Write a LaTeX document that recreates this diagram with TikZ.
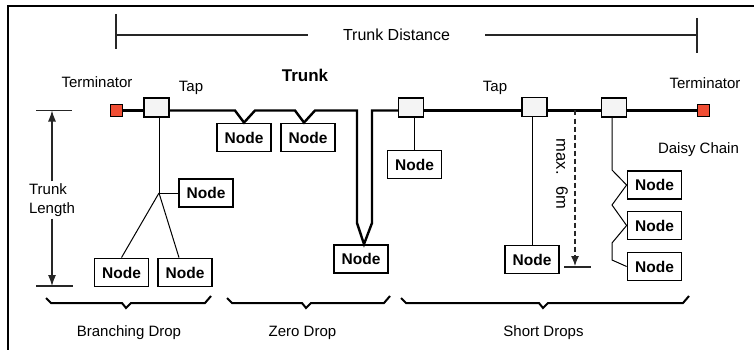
\documentclass[tikz,border=0pt]{standalone}
\usepackage{fontspec}
\setmainfont{Liberation Sans}
\usetikzlibrary{arrows.meta,calc}
\definecolor{termred}{RGB}{240,78,52}
\definecolor{tapfill}{RGB}{244,244,244}
\newcommand{\dropbrace}[3]{%
  \draw[bracestyle] (#1-5,298) -- (#1,303) -- (#2-5,303) -- (#2-1,308) -- (#2+4,303) -- (#3,303) -- (#3+6,296);}
\begin{document}
\begin{tikzpicture}[x=1pt,y=-1pt,
  lbl/.style={font=\fontsize{15}{19}\selectfont, inner sep=1pt},
  nodebox/.style={draw, line width=1.8pt, fill=white, minimum width=54pt, minimum height=28pt, inner sep=0pt, font=\bfseries\fontsize{15.5}{15}\selectfont},
  tapbox/.style={draw, line width=1.4pt, fill=tapfill, minimum width=25pt, minimum height=19pt, inner sep=0pt},
  termbox/.style={draw, line width=1.2pt, fill=termred, minimum size=12pt, inner sep=0pt},
  trunkline/.style={line width=2.4pt, line join=miter},
  dropline/.style={line width=1pt},
  dimline/.style={line width=1.2pt, draw=black!85},
  bracestyle/.style={line width=2pt},
  arr/.style={-{Latex[length=11pt,width=8pt]}}
]
\useasboundingbox (0,0) rectangle (754,350);
\draw[line width=2pt] (8,350) -- (8,6) -- (754,6);

% terminators and taps
\node[termbox] (termL) at (116.5,110.5) {};
\node[termbox] (termR) at (703.5,110.5) {};
\node[tapbox] (tapL) at (156.5,107.5) {};
\node[tapbox] (tapS1) at (411,107.5) {};
\node[tapbox] (tapS2) at (534.5,107) {};
\node[tapbox] (tapS3) at (614,107.5) {};

% device nodes
\node[nodebox] (bn1) at (206,193) {Node};
\node[nodebox] (bn2) at (121.5,272.5) {Node};
\node[nodebox] (bn3) at (185,272.5) {Node};
\node[nodebox] (zn1) at (244,137.5) {Node};
\node[nodebox] (zn2) at (308,137.5) {Node};
\node[nodebox] (zn3) at (361,259) {Node};
\node[nodebox] (sn1) at (414.5,164.5) {Node};
\node[nodebox] (sn2) at (532,259.5) {Node};
\node[nodebox] (dn1) at (654.5,185) {Node};
\node[nodebox] (dn2) at (654.5,225.5) {Node};
\node[nodebox] (dn3) at (654.5,266.5) {Node};

% labels
\node[lbl] (lTermL) at (97,82) {Terminator};
\node[lbl] (lTapL) at (191,88) {Tap};
\node[lbl, font=\bfseries\fontsize{17}{19}\selectfont] (lTrunk) at (305,75) {Trunk};
\node[lbl] (lTapS) at (495,88) {Tap};
\node[lbl] (lTermR) at (705,83) {Terminator};
\node[lbl] (lDaisy) at (698.5,150) {Daisy Chain};
\node[lbl] (lBD) at (129,333) {Branching Drop};
\node[lbl] (lZD) at (302.5,333) {Zero Drop};
\node[lbl] (lSD) at (543.5,333) {Short Drops};

% trunk distance
\coordinate (tdL) at (116,35);
\coordinate (tdR) at (697,35);
\node[lbl, font=\fontsize{16}{19}\selectfont, inner xsep=35pt, inner ysep=0pt] (lTD) at (396.5,35) {Trunk Distance};
\draw[dimline] (tdL) -- (lTD.west) (lTD.east) -- (tdR);
\draw[dimline] ($(tdL)+(0,-21)$) -- ($(tdL)+(0,14)$);
\draw[dimline] ($(tdR)+(0,-17)$) -- ($(tdR)+(0,18)$);

% trunk length
\coordinate (tlT) at (52,110.5);
\coordinate (tlB) at (52,286);
\node[lbl, fill=white, align=left, inner sep=2pt] (lTL) at (52,200) {Trunk\\Length};
\draw[dimline,arr] (lTL.north) -- (tlT);
\draw[dimline,arr] (lTL.south) -- (tlB);
\draw[dimline] ($(tlT)+(-16,0)$) -- ($(tlT)+(20,0)$);
\draw[dimline] ($(tlB)+(-16,0)$) -- ($(tlB)+(21,0)$);

% trunk
\draw[trunkline] (termL.east) -- (termL.east -| tapL.west);
\draw[trunkline] (tapL.east |- termL.east) -- (235,110.5) -- (zn1.north) -- (255,110.5) -- (295,110.5)
  -- ([xshift=-4pt]zn2.north) -- (315,110.5) -- (357,110.5) -- (357,223) -- ([xshift=3pt]zn3.north)
  -- (372,223) -- (372,110.5) -- (tapS1.west |- termL.east);
\draw[trunkline] (tapS1.east |- termL.east) -- (tapS2.west |- termL.east);
\draw[trunkline] (tapS2.east |- termL.east) -- (tapS3.west |- termL.east);
\draw[trunkline] (tapS3.east |- termL.east) -- (termR.west);

% branching drop
\coordinate (bp) at (159,193);
\draw[dropline] (tapL.south -| bp) -- (bp) -- (bn1.west);
\draw[dropline] (bp) -- (bn2.north);
\draw[dropline] (bp) -- ([xshift=-6pt]bn3.north);

% short drops
\draw[dropline] (tapS1.south -| sn1.north) -- (sn1.north);
\draw[dropline] (tapS2.south -| sn2.north) -- (sn2.north);

% max 6m
\coordinate (m6) at (575,266);
\draw[dimline, dash pattern=on 5pt off 3pt, -{Latex[length=10pt,width=8pt]}] (m6 |- termL.east) -- (m6);
\draw[dimline] ($(m6)+(-11,1)$) -- ($(m6)+(16,1)$);
\node[lbl, font=\fontsize{16.5}{19}\selectfont, rotate=-90, fill=white] (lMax) at (562,174) {max.\hspace{0.7em}6m};

% daisy chain
\coordinate (dz) at (612,170);
\draw[dropline] (tapS3.south -| dz) -- (dz) -- (dn1.west) -- (612,205) -- (dn2.west) -- (612,243) -- (612,260) -- (dn3.west);

% braces
\dropbrace{51}{127}{205}
\dropbrace{232}{307}{384}
\dropbrace{406}{544}{683}
\end{tikzpicture}
\end{document}
